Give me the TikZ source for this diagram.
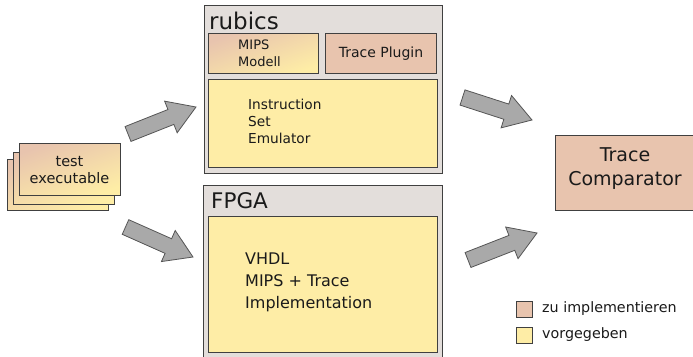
\documentclass[tikz,border=0pt]{standalone}
\usepackage{fontspec}
\setmainfont{DejaVu Sans}
\usetikzlibrary{calc}
\definecolor{outerc}{HTML}{E3DEDB}
\definecolor{pinkc}{HTML}{E8C4AE}
\definecolor{yellowc}{HTML}{FEEDA6}
\definecolor{linec}{HTML}{404040}
\definecolor{arrowc}{HTML}{A9A9A9}
\definecolor{arrowl}{HTML}{555555}
\definecolor{textc}{HTML}{1A1A1A}
\newcommand\fatarrow[3]{%
  \coordinate (#1s) at (#2);
  \coordinate (#1e) at (#3);
  \coordinate (#1h) at ($(#1e)!27pt!(#1s)$);
  \draw[fatarr] ($(#1s)!8pt!90:(#1e)$) -- ($(#1h)!8pt!90:(#1e)$) -- ($(#1h)!17pt!90:(#1e)$)
    -- (#1e) -- ($(#1h)!17pt!-90:(#1e)$) -- ($(#1h)!8pt!-90:(#1e)$) -- ($(#1s)!8pt!-90:(#1e)$) -- cycle;}
\begin{document}
\begin{tikzpicture}[x=1pt,y=-1pt,
  box/.style={draw=linec, line width=1pt, anchor=north west, inner sep=0pt},
  outerbox/.style={box, fill=outerc},
  pinkbox/.style={box, fill=pinkc},
  yellowbox/.style={box, fill=yellowc},
  gradbox/.style={box, top color=pinkc, bottom color=yellowc, shading angle=20},
  txt/.style={text=textc, inner sep=0pt, align=left},
  fatarr/.style={fill=arrowc, draw=arrowl, line width=0.8pt, line join=miter}]
\useasboundingbox (0,0) rectangle (693,356);
\fill[white] (0,0) rectangle (693,356);

% rubics
\node[outerbox, minimum width=238pt, minimum height=168pt] (rubics) at (204,5) {};
\node[txt, anchor=base west, font=\fontsize{23}{28}\selectfont] (rubicslbl) at (209,29) {rubics};
\node[gradbox, minimum width=110pt, minimum height=40pt] (mips) at (208,33) {};
\node[txt, anchor=west, font=\fontsize{13}{17}\selectfont] (mipstxt) at (238,53) {MIPS\\Modell};
\node[pinkbox, minimum width=111pt, minimum height=40pt] (plugin) at (325,33) {};
\node[txt, font=\fontsize{14}{17}\selectfont] (plugintxt) at (plugin.center) {Trace Plugin};
\node[yellowbox, minimum width=229pt, minimum height=88pt] (ise) at (208,79) {};
\node[txt, anchor=west, font=\fontsize{13.7}{17}\selectfont] (isetxt) at (248,121) {Instruction\\Set\\Emulator};

% FPGA
\node[outerbox, minimum width=239pt, minimum height=175pt] (fpga) at (203,185) {};
\node[txt, anchor=base west, font=\fontsize{21.5}{26}\selectfont] (fpgalbl) at (211,208) {FPGA};
\node[yellowbox, minimum width=229pt, minimum height=136pt] (vhdl) at (208,216) {};
\node[txt, anchor=west, font=\fontsize{16}{22}\selectfont] (vhdltxt) at (245,282) {VHDL\\MIPS + Trace\\Implementation};

% test executable stack
\node[gradbox, minimum width=101pt, minimum height=51pt] (te3) at (7,159) {};
\node[gradbox, minimum width=101pt, minimum height=52pt] (te2) at (13,152) {};
\node[gradbox, minimum width=101pt, minimum height=52pt] (te1) at (19,143) {};
\node[txt, align=center, font=\fontsize{14.5}{17}\selectfont] (tetxt) at (69.5,170.5) {test\\executable};

% Trace Comparator
\node[pinkbox, minimum width=145pt, minimum height=75pt] (comp) at (555,135) {};
\node[txt, align=center, font=\fontsize{19}{24}\selectfont] (comptxt) at (625,169) {Trace\\Comparator};

% legend
\node[pinkbox, minimum width=16pt, minimum height=16pt] (leg1) at (516,301) {};
\node[txt, anchor=west, font=\fontsize{14.3}{17}\selectfont] (leg1txt) at (542,309) {zu implementieren};
\node[yellowbox, minimum width=16pt, minimum height=16pt] (leg2) at (516,327) {};
\node[txt, anchor=west, font=\fontsize{14.3}{17}\selectfont] (leg2txt) at (542,335) {vorgegeben};

% fat arrows
\fatarrow{a1}{128,134}{196,107}
\fatarrow{a2}{125.5,227}{193,257}
\fatarrow{a3}{462.5,97.5}{532,120}
\fatarrow{a4}{468,260}{537,233}
\end{tikzpicture}
\end{document}
